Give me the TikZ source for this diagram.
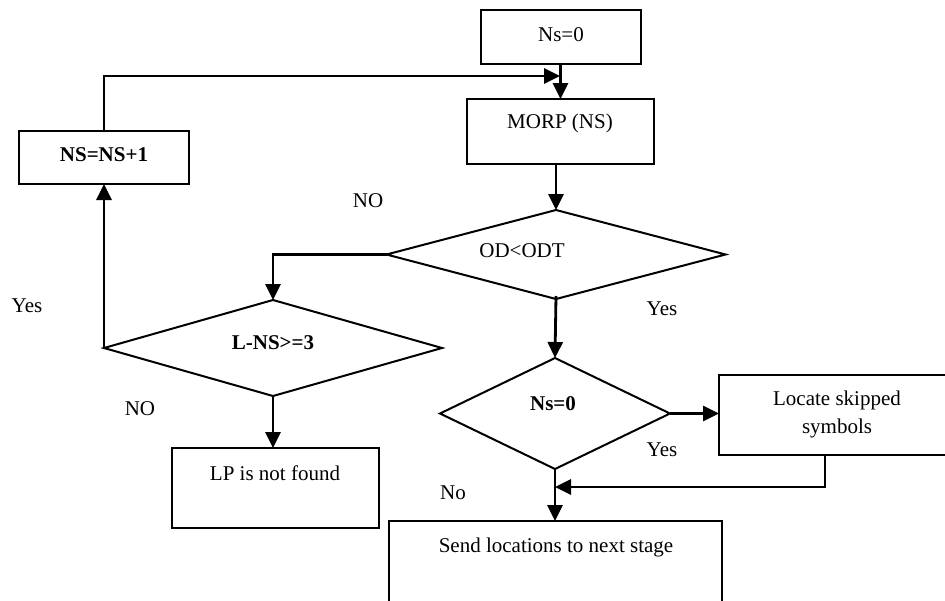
\documentclass[tikz,border=0pt]{standalone}
\usepackage{fontspec}
\setmainfont{Liberation Serif}
\usetikzlibrary{arrows.meta,shapes.geometric}
\begin{document}
\begin{tikzpicture}[x=1pt,y=-1pt,
  box/.style={draw,line width=2pt,rectangle,inner sep=0pt,outer sep=0pt},
  dia/.style={draw,line width=2pt,diamond,inner sep=0pt,outer sep=0pt},
  txt/.style={font=\fontsize{21}{28}\selectfont,inner sep=0pt,align=center},
  btxt/.style={font=\fontsize{21}{28}\selectfont\bfseries,inner sep=0pt,align=center},
  arr/.style={line width=2.8pt,-{Triangle[length=16pt,width=15pt]}},
  ln/.style={line width=2.8pt}]
\useasboundingbox (0,0) rectangle (945,600);
% boxes
\node[box,minimum width=160pt,minimum height=54pt] (b0) at (561,37) {};
\node[txt] (t0) at (561,35) {Ns=0};
\node[box,minimum width=187pt,minimum height=65pt] (morp) at (560.5,131.5) {};
\node[txt] (tmorp) at (560,123) {MORP (NS)};
\node[box,minimum width=170pt,minimum height=53pt] (ns) at (104,157.5) {};
\node[btxt] (tns) at (104,155) {NS=NS+1};
\node[box,minimum width=207pt,minimum height=80pt] (lp) at (275.5,488) {};
\node[txt] (tlp) at (275,473) {LP is not found};
\node[box,minimum width=228pt,minimum height=80pt] (loc) at (833,415) {};
\node[txt] (tloc) at (837,414) {Locate skipped\\symbols};
\node[box,minimum width=333pt,minimum height=100pt] (send) at (555.5,571) {};
\node[txt] (tsend) at (556,547) {Send locations to next stage};
% diamonds
\node[dia,minimum width=339pt,minimum height=89pt] (d1) at (556,254.5) {};
\node[txt] (td1) at (522,251) {OD<ODT};
\node[dia,minimum width=338pt,minimum height=96pt] (d2) at (273,348) {};
\node[btxt] (td2) at (273,343) {L-NS>=3};
\node[dia,minimum width=230pt,minimum height=111pt] (d3) at (555,413.5) {};
\node[btxt] (td3) at (553,404) {Ns=0};
% labels
\node[txt] (l1) at (368,201) {NO};
\node[txt] (l2) at (27,306) {Yes};
\node[txt] (l3) at (662,309) {Yes};
\node[txt] (l4) at (140,409) {NO};
\node[txt] (l5) at (662,450) {Yes};
\node[txt] (l6) at (453,493) {No};
% join points
\coordinate (j1) at (560,76);
\coordinate (j2) at (555,487);
% connectors
\draw[arr] (b0.south -| morp.north) -- (morp.north);
\draw[arr] (ns.north) |- (j1);
\draw[arr] (d1.north |- morp.south) -- (d1.north);
\draw[arr] (d1.west) -| (d2.north);
\draw[arr] (d2.west) -- (ns.south);
\draw[arr] (d2.south) -- (d2.south |- lp.north);
\draw[arr] ([yshift=3pt]d1.south) -- (d3.north);
\draw[arr] (d3.east) -- (d3.east -| loc.west);
\draw[arr] (d3.south) -- (d3.south |- send.north);
\draw[arr] ([xshift=-8pt]loc.south) |- (j2);
\end{tikzpicture}
\end{document}
